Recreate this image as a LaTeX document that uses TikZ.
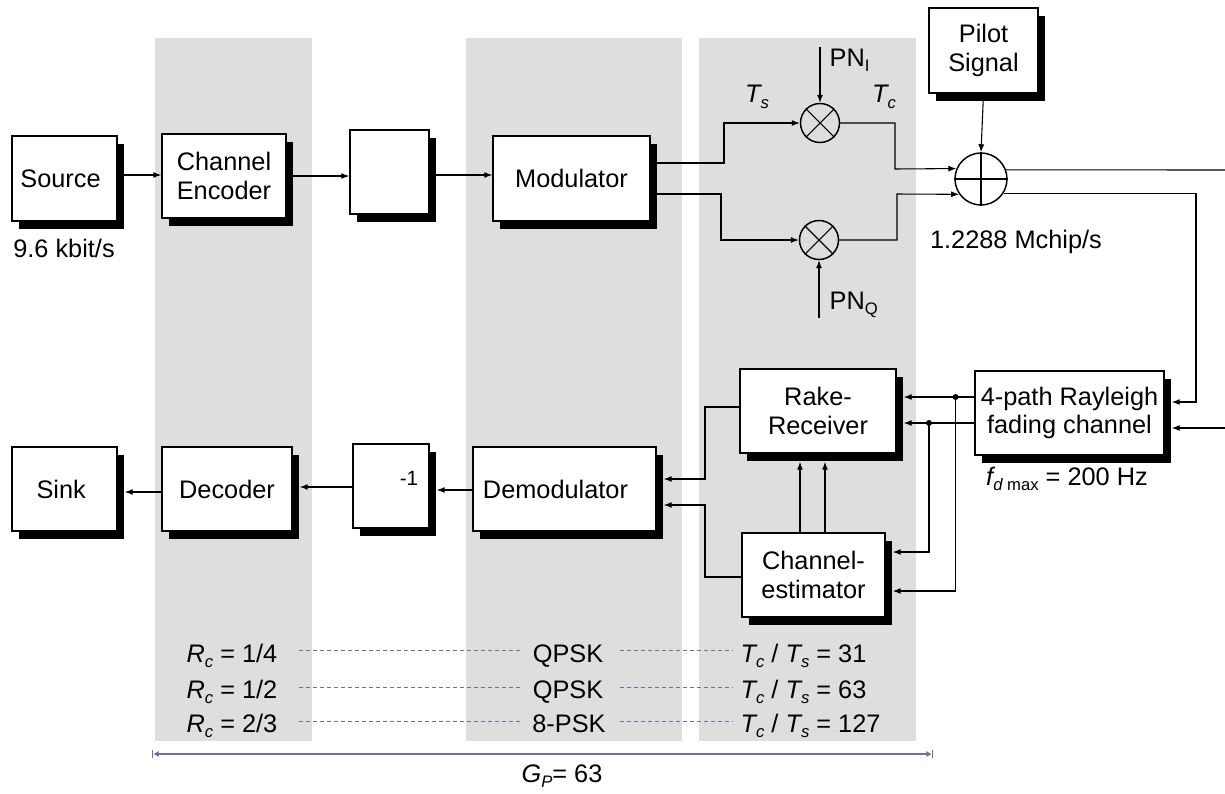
\documentclass[tikz,border=0pt]{standalone}
\usepackage{fontspec}
\setmainfont{Liberation Sans}
\usetikzlibrary{arrows.meta,shadows}
\definecolor{bandgray}{RGB}{222,222,222}
\definecolor{guide}{RGB}{118,106,158}
\newcommand\dgf{\fontsize{19}{21.5}\selectfont}
\newcommand\sbf{\fontsize{12.5}{13}\selectfont}
\newcommand\dsub[1]{\raisebox{-4pt}{\sbf #1}}
\begin{document}
\begin{tikzpicture}[x=0.75pt,y=-0.75pt,
  blk/.style={draw, line width=1.1pt, fill=white, align=center, inner sep=0pt, font=\dgf,
     drop shadow={shadow xshift=5.25pt, shadow yshift=-6pt, opacity=1, fill=black}},
  sz/.style 2 args={minimum width={#1*0.75pt}, minimum height={#2*0.75pt}},
  ring/.style={circle, draw, line width=1.1pt, inner sep=0pt, minimum size={#1*0.75pt}},
  con/.style={line width=0.8pt},
  arr/.style={con, -{Latex[length=6pt,width=4.5pt]}},
  dot/.style={circle, fill=black, inner sep=0pt, minimum size=4.5pt},
  txt/.style={font=\dgf, inner sep=1pt},
  dsh/.style={guide, line width=0.7pt, dash pattern=on 3pt off 2.25pt},
  >={Latex[length=4pt,width=4.5pt]}
]
\useasboundingbox (0,0) rectangle (1225,793);

% background bands
\fill[bandgray] (155,38) rectangle (312,741);
\fill[bandgray] (466,38) rectangle (682,741);
\fill[bandgray] (699,38) rectangle (916,741);

% blocks
\node[blk, sz={105}{85}] (src) at (64.5,178.5) {Source\hspace*{6pt}};
\node[blk, sz={124}{84}] (enc) at (224,176) {Channel\\Encoder};
\node[blk, sz={79}{84}] (intl) at (389.5,172) {};
\node[blk, sz={157}{85}] (mod) at (571.5,178.5) {Modulator};
\node[blk, sz={109}{85}] (pilot) at (983.5,50.5) {Pilot\\Signal};
\node[blk, sz={189}{84}] (ray) at (1069.5,413) {4-path Rayleigh\\fading channel};
\node[blk, sz={156}{84}] (rake) at (818,411) {Rake-\\Receiver};
\node[blk, sz={143}{84}] (est) at (813.5,575) {Channel-\\estimator};
\node[blk, sz={105}{84}] (sink) at (64.5,489) {Sink\hspace*{5pt}};
\node[blk, sz={130}{84}] (dec) at (227,489) {Decoder};
\node[blk, sz={76}{84}] (dint) at (391,486) {};
\node[font=\fontsize{15.5}{16}\selectfont, inner sep=0pt] (minus) at (409,478) {-1};
\node[blk, sz={183}{84}] (dem) at (564.5,489) {Demodulator\hspace*{13.5pt}};

% shadow-edge coordinates
\coordinate (rayS) at ([xshift=5.25pt]ray.east);
\coordinate (rakeS) at ([xshift=5.25pt]rake.east);
\coordinate (rakeB) at ([yshift=-6pt]rake.south);
\coordinate (estS) at ([xshift=5.25pt]est.east);
\coordinate (demS) at ([xshift=5.25pt]dem.east);
\coordinate (dintS) at ([xshift=5.25pt]dint.east);
\coordinate (decS) at ([xshift=5.25pt]dec.east);
\coordinate (sinkS) at ([xshift=5.25pt]sink.east);

% mixers and adder
\node[ring=39] (mi) at (820,123) {};
\node[ring=39] (mq) at (819,240) {};
\draw[line width=0.8pt] (mi.45) -- (mi.225) (mi.135) -- (mi.315);
\draw[line width=0.8pt] (mq.45) -- (mq.225) (mq.135) -- (mq.315);
\node[ring=52] (add) at (981,179) {};
\draw[line width=0.8pt] (add.north) -- (add.south) (add.west) -- (add.east);

% transmitter chain
\draw[arr] (src.east |- 0,175) -- (enc.west |- 0,175);
\draw[arr] (enc.east |- 0,176) -- (intl.west |- 0,176);
\draw[arr] (intl.east |- 0,175) -- (mod.west |- 0,175);
\draw[arr] (mod.east |- 0,163) -| (724,123) -- (mi.west);
\draw[arr] (mod.east |- 0,194) -| (721,240) -- (mq.west);
\coordinate (pni) at (820,47);
\coordinate (pnq) at (819,318);
\draw[arr] (pni) -- (mi.north);
\draw[arr] (pnq) -- (mq.south);
\draw[arr] (mi.east) -| (895,169) -- (add.157.4);
\draw[arr] (mq.east) -| (897,194) -- (add.215.2);
\draw[arr] (pilot.south) -- (add.north);
\coordinate (edgeA) at (1225,170);
\coordinate (edgeB) at (1225,428);
\draw[con] (add.20.3) -- (edgeA);
\draw[arr] (edgeB) -- (rayS |- 0,428);
\draw[arr] (add.-32.6) -| (1196,402) -- (rayS |- 0,402);

% receiver
\node[dot] (d1) at (955.6,397) {};
\node[dot] (d2) at (929,423) {};
\draw[arr] (ray.west |- 0,397) -- (rakeS |- 0,397);
\draw[arr] (ray.west |- 0,423) -- (rakeS |- 0,423);
\draw[arr] (d2.center) |- (estS |- 0,552);
\draw[arr] (d1.center) |- (estS |- 0,591);
\draw[arr] (est.north -| 800,0) -- (rakeB -| 800,0);
\draw[arr] (est.north -| 825,0) -- (rakeB -| 825,0);
\draw[arr] (rake.west |- 0,407) -| (705,479) -- (demS |- 0,479);
\draw[arr] (est.west |- 0,577) -| (705,505) -- (demS |- 0,505);
\draw[arr] (dem.west |- 0,490) -- (dintS |- 0,490);
\draw[arr] (dint.west |- 0,487) -- (decS |- 0,487);
\draw[arr] (dec.west |- 0,492) -- (sinkS |- 0,492);

% labels
\node[txt] (rate) at (64,248) {9.6 kbit/s};
\node[txt, anchor=west] (pnil) at (828,60) {PN\dsub{I}};
\node[txt, anchor=west] (pnql) at (828,305) {PN\dsub{Q}};
\node[txt] (tsl) at (757,97) {\itshape T\dsub{\itshape s}};
\node[txt] (tcl) at (884,97) {\itshape T\dsub{\itshape c}};
\node[txt] (chip) at (1016,242) {1.2288 Mchip/s};
\node[txt] (fd) at (1067,479) {{\itshape f}\dsub{{\itshape d} max} = 200 Hz};

% bottom table
\node[txt, anchor=base west] (r1) at (185,662) {{\itshape R}\dsub{\itshape c} = 1/4};
\node[txt, anchor=base west] (r2) at (185,698) {{\itshape R}\dsub{\itshape c} = 1/2};
\node[txt, anchor=base west] (r3) at (185,732) {{\itshape R}\dsub{\itshape c} = 2/3};
\node[txt, anchor=base] (q1) at (568,662) {QPSK};
\node[txt, anchor=base] (q2) at (568,698) {QPSK};
\node[txt, anchor=base] (q3) at (569,732) {8-PSK};
\node[txt, anchor=base west] (t1) at (739,662) {{\itshape T}\dsub{\itshape c} / {\itshape T}\dsub{\itshape s} = 31};
\node[txt, anchor=base west] (t2) at (739,698) {{\itshape T}\dsub{\itshape c} / {\itshape T}\dsub{\itshape s} = 63};
\node[txt, anchor=base west] (t3) at (739,732) {{\itshape T}\dsub{\itshape c} / {\itshape T}\dsub{\itshape s} = 127};
\draw[dsh] (r1.base -| 299,0) ++(0,-12) -- ++(221,0);
\draw[dsh] (r2.base -| 299,0) ++(0,-11) -- ++(221,0);
\draw[dsh] (r3.base -| 299,0) ++(0,-11) -- ++(221,0);
\draw[dsh] (q1.base -| 620,0) ++(0,-12) -- ++(113,0);
\draw[dsh] (q2.base -| 620,0) ++(0,-11) -- ++(113,0);
\draw[dsh] (q3.base -| 620,0) ++(0,-11) -- ++(113,0);
\coordinate (gpl) at (152,754);
\coordinate (gpr) at (933,754);
\draw[guide, line width=0.9pt, |<->|] (gpl) -- (gpr);
\node[txt] (gp) at (562,776) {{\itshape G}\dsub{\itshape P}= 63};
\end{tikzpicture}
\end{document}
